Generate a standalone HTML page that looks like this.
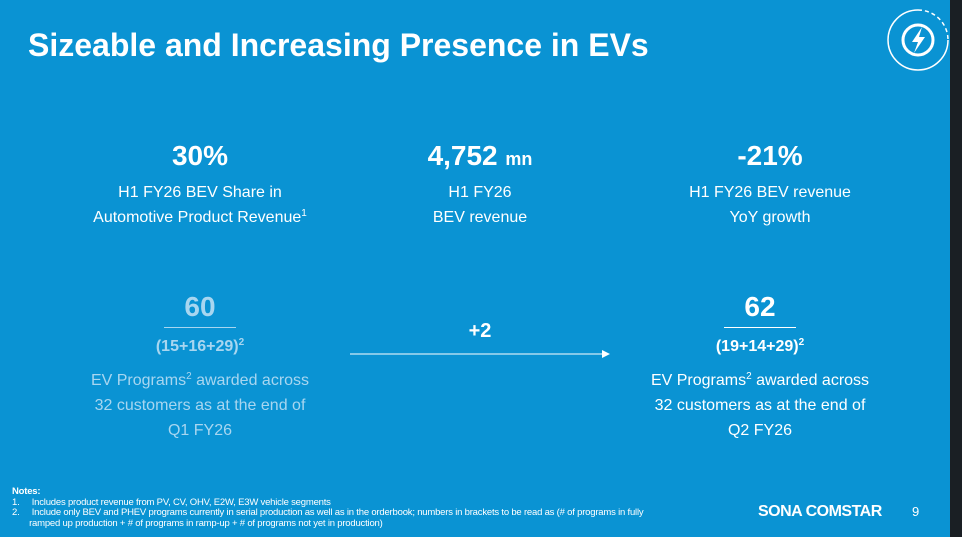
<!DOCTYPE html>
<html><head><meta charset="utf-8"><style>
body{margin:0;width:962px;height:537px;overflow:hidden;background:#0a93d3;font-family:"Liberation Sans",sans-serif;color:#fff;position:relative}
.a{position:absolute;text-align:center}
.big{font-weight:bold;font-size:28px}
.sub{font-size:16px;line-height:25px}
.f{color:#a8d6f0}
sup{font-size:10px;line-height:0;vertical-align:6px}
</style></head><body>
<div class="a" style="left:28px;top:27px;font-size:32px;font-weight:bold;text-align:left">Sizeable and Increasing Presence in EVs</div>
<svg style="position:absolute;left:884px;top:5px" width="70" height="70"><circle cx="34" cy="35" r="30" fill="none" stroke="#fff" stroke-width="1.5"/><path d="M34 5 A30 30 0 0 1 64 35" fill="none" stroke="#0a93d3" stroke-width="3"/><path d="M34 5 A30 30 0 0 1 64 35" fill="none" stroke="#fff" stroke-width="1.5" stroke-dasharray="4 3"/><circle cx="34" cy="35" r="15" fill="none" stroke="#fff" stroke-width="3"/><path d="M38 22 L28 37 L34 37 L30 48 L41 32 L35 32 Z" fill="#fff"/></svg>
<div style="position:absolute;left:950px;top:0;width:12px;height:537px;background:#1a1f24"></div>

<div class="a" style="left:60px;width:280px;top:140px"><div class="big">30%</div><div class="sub" style="margin-top:8px">H1 FY26 BEV Share in<br>Automotive Product Revenue<sup>1</sup></div></div>
<div class="a" style="left:340px;width:280px;top:140px"><div class="big">4,752 <span style="font-size:18px">mn</span></div><div class="sub" style="margin-top:8px">H1 FY26<br>BEV revenue</div></div>
<div class="a" style="left:630px;width:280px;top:140px"><div class="big">-21%</div><div class="sub" style="margin-top:8px">H1 FY26 BEV revenue<br>YoY growth</div></div>

<div class="a f" style="left:60px;width:280px;top:291px"><div class="big">60</div><div style="width:72px;height:1px;background:#a8d6f0;margin:4px auto 10px"></div><div style="font-weight:bold;font-size:16px">(15+16+29)<sup>2</sup></div><div class="sub" style="margin-top:12px">EV Programs<sup>2</sup> awarded across<br>32 customers as at the end of<br>Q1 FY26</div></div>
<div class="a" style="left:620px;width:280px;top:291px"><div class="big">62</div><div style="width:72px;height:1px;background:#fff;margin:4px auto 10px"></div><div style="font-weight:bold;font-size:16px">(19+14+29)<sup>2</sup></div><div class="sub" style="margin-top:12px">EV Programs<sup>2</sup> awarded across<br>32 customers as at the end of<br>Q2 FY26</div></div>
<div class="a" style="left:440px;width:80px;top:320px;font-weight:bold;font-size:20px">+2</div>
<svg style="position:absolute;left:350px;top:348px" width="262" height="12"><line x1="0" y1="6" x2="255" y2="6" stroke="#fff" stroke-width="1"/><path d="M252 2 L260 6 L252 10 Z" fill="#fff"/></svg>

<div style="position:absolute;left:12px;top:487px;font-size:9.5px;line-height:10.5px;width:740px;letter-spacing:-0.2px"><b>Notes:</b><br>1.&nbsp;&nbsp;&nbsp;&nbsp;&nbsp;Includes product revenue from PV, CV, OHV, E2W, E3W vehicle segments<br>2.&nbsp;&nbsp;&nbsp;&nbsp;&nbsp;Include only BEV and PHEV programs currently in serial production as well as in the orderbook; numbers in brackets to be read as (# of programs in fully<br>&nbsp;&nbsp;&nbsp;&nbsp;&nbsp;&nbsp;&nbsp;ramped up production + # of programs in ramp-up + # of programs not yet in production)</div>
<div style="position:absolute;left:758px;top:503px;font-size:16px;font-weight:bold;letter-spacing:-0.5px">SONA COMSTAR</div>
<div style="position:absolute;left:912px;top:504px;font-size:13px">9</div>
</body></html>
